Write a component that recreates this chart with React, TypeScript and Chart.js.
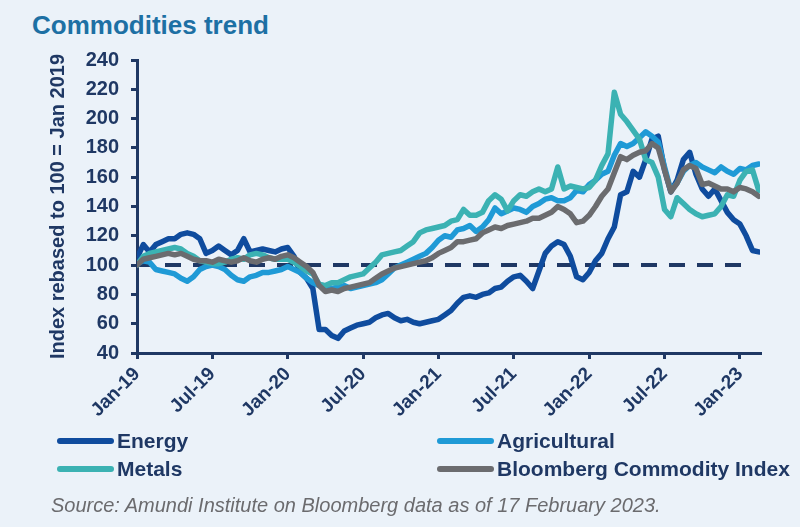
import React, { useEffect, useRef } from "react";
import { Chart, registerables } from "chart.js";

Chart.register(...registerables);

// ---- data (half-month steps from Jan 2019) ----
const STEP_MONTHS = 0.5;
const tickMonths = [0, 6, 12, 18, 24, 30, 36, 42, 48];
const tickLabels = ["Jan-19", "Jul-19", "Jan-20", "Jul-20", "Jan-21", "Jul-21", "Jan-22", "Jul-22", "Jan-23"];
const baselineValue = 100;
const baselineRange = [0, 48.4];

const energy = [
  105, 114, 109, 114, 116, 118, 118, 121, 122, 121,
  118, 108, 110, 113, 110, 107, 110, 118, 109, 110,
  111, 110, 109, 111, 112, 106, 95, 91, 84, 56,
  56, 52, 50, 55, 57, 59, 60, 61, 64, 66,
  67, 64, 62, 63, 61, 60, 61, 62, 63, 66,
  69, 74, 78, 79, 78, 80, 81, 84, 85, 89,
  92, 93, 89, 84, 96, 108, 113, 116, 114, 106,
  92, 90, 95, 103, 108, 118, 126, 148, 150, 164,
  160, 172, 186, 188, 165, 150, 158, 172, 177, 162,
  152, 147, 152, 144, 136, 131, 128, 120, 110, 109,
];

const agricultural = [
  101, 103, 102, 97, 96, 95, 94, 91, 89, 92,
  97, 99, 100, 99, 97, 93, 90, 89, 92, 93,
  95, 95, 96, 97, 99, 97, 95, 91, 88, 86,
  85, 84, 85, 86, 84, 85, 86, 87, 88, 90,
  94, 98, 100, 102, 104, 106, 108, 112, 117, 120,
  119, 124, 125, 127, 123, 126, 131, 139, 135, 137,
  139, 138, 136, 140, 142, 145, 146, 144, 144, 146,
  151, 150, 155, 158, 162, 164, 175, 183, 181, 183,
  187, 191, 188, 184, 167, 151, 156, 164, 168, 170,
  167, 165, 163, 167, 164, 162, 166, 165, 168, 169,
];

const metals = [
  100, 106, 108, 109, 110, 111, 112, 111, 108, 106,
  103, 102, 101, 101, 102, 104, 105, 104, 107, 108,
  107, 105, 104, 104, 104, 102, 99, 96, 94, 87,
  86, 88, 88, 90, 92, 93, 94, 98, 102, 107,
  108, 109, 110, 113, 116, 122, 124, 125, 126, 127,
  130, 131, 138, 134, 134, 136, 144, 148, 145, 137,
  144, 148, 147, 150, 152, 150, 152, 167, 152, 154,
  153, 152, 153, 158, 168, 176, 218, 203, 198, 192,
  186, 172, 170, 160, 138, 133, 146, 142, 138, 135,
  133, 134, 135, 140, 148, 147, 158, 164, 165, 151,
];

const bloomberg = [
  100, 104, 105, 106, 107, 108, 107, 108, 106, 104,
  103, 103, 102, 104, 103, 102, 103, 105, 103, 102,
  104, 105, 104, 106, 107, 105, 102, 99, 95, 86,
  82, 83, 82, 84, 85, 86, 87, 88, 91, 94,
  96, 98, 99, 100, 101, 102, 103, 105, 108, 110,
  112, 116, 116, 117, 118, 122, 124, 126, 125, 127,
  128, 129, 130, 132, 132, 134, 136, 140, 138, 135,
  129, 130, 134, 140, 147, 152, 163, 174, 172, 175,
  177, 178, 183, 180, 165, 150, 156, 165, 168, 166,
  155, 156, 154, 152, 152, 150, 153, 152, 150, 147,
];

const seriesNames = ["Energy", "Agricultural", "Metals", "Bloomberg Commodity Index"];
const seriesColors = ["#0f4c9e", "#1f9ad6", "#3bb2b3", "#6b6c6f"];

const NAVY = "#1f3864";
const FONT = "'Liberation Sans', Arial, sans-serif";
const BG = "#ebf2f9";

const toPoints = (arr: number[]) => arr.map((v, i) => ({ x: i * STEP_MONTHS, y: v }));

function LegendItem({ name, color, left, top }: { name: string; color: string; left: number; top: number }) {
  return (
    <div
      style={{
        position: "absolute",
        left,
        top,
        height: 24,
        display: "flex",
        alignItems: "center",
        fontFamily: FONT,
        fontWeight: 700,
        fontSize: 21,
        lineHeight: "24px",
        color: NAVY,
        whiteSpace: "nowrap",
      }}
    >
      <span
        style={{
          display: "inline-block",
          width: 57,
          height: 6,
          borderRadius: 3,
          background: color,
          marginRight: 3,
        }}
      />
      <span>{name}</span>
    </div>
  );
}

export default function App() {
  const ref = useRef<HTMLCanvasElement>(null);

  useEffect(() => {
    const seriesData = [energy, agricultural, metals, bloomberg];
    const orders = [4, 3, 2, 1];
    const datasets: any[] = seriesNames.map((name, k) => ({
      label: name,
      data: toPoints(seriesData[k]),
      borderColor: seriesColors[k],
      backgroundColor: seriesColors[k],
      borderWidth: 5.5,
      order: orders[k],
    }));
    datasets.push({
      label: "Baseline",
      data: baselineRange.map((x) => ({ x, y: baselineValue })),
      borderColor: NAVY,
      borderWidth: 4,
      borderDash: [16, 12],
      borderCapStyle: "butt",
      order: 5,
    });

    const chart = new Chart(ref.current!, {
      type: "line",
      data: { datasets },
      options: {
        responsive: false,
        animation: false,
        layout: { padding: { left: 0, top: 60, right: 40, bottom: 0 } },
        plugins: { legend: { display: false }, tooltip: { enabled: false } },
        elements: {
          point: { radius: 0 },
          line: { tension: 0, borderJoinStyle: "round", borderCapStyle: "round" },
        },
        scales: {
          x: {
            type: "linear",
            min: 0,
            max: 49.6,
            afterBuildTicks: (s: any) => {
              s.ticks = tickMonths.map((v) => ({ value: v }));
            },
            afterFit: (s: any) => {
              s.height = 174;
            },
            ticks: {
              autoSkip: false,
              maxRotation: 45,
              minRotation: 45,
              padding: 4,
              color: NAVY,
              font: { family: FONT, weight: "bold", size: 19 },
              callback: (_v: any, i: number) => tickLabels[i],
            },
            grid: { drawOnChartArea: false, drawTicks: true, tickLength: 6, color: NAVY, lineWidth: 3 },
            border: { display: true, color: NAVY, width: 3 },
          },
          y: {
            min: 40,
            max: 240,
            afterFit: (s: any) => {
              s.width = 137;
            },
            ticks: {
              stepSize: 20,
              padding: 12,
              color: NAVY,
              font: { family: FONT, weight: "bold", size: 20 },
            },
            title: {
              display: true,
              text: "Index rebased to 100 = Jan 2019",
              color: NAVY,
              font: { family: FONT, weight: "bold", size: 20 },
              padding: { top: 46, bottom: 0 },
            },
            grid: { drawOnChartArea: false, drawTicks: true, tickLength: 6, color: NAVY, lineWidth: 3 },
            border: { display: true, color: NAVY, width: 3 },
          },
        },
      } as any,
    });
    return () => chart.destroy();
  }, []);

  return (
    <div
      style={{
        position: "fixed",
        left: 0,
        top: 0,
        width: 800,
        height: 527,
        background: BG,
        overflow: "hidden",
      }}
    >
      <div
        style={{
          position: "absolute",
          left: 32,
          top: 11,
          fontFamily: FONT,
          fontWeight: 700,
          fontSize: 26,
          lineHeight: "29px",
          color: "#1d70a4",
          whiteSpace: "nowrap",
        }}
      >
        Commodities trend
      </div>
      <canvas ref={ref} width={800} height={527} style={{ position: "absolute", left: 0, top: 0, display: "block" }} />
      <LegendItem name={seriesNames[0]} color={seriesColors[0]} left={57} top={429} />
      <LegendItem name={seriesNames[1]} color={seriesColors[1]} left={437} top={429} />
      <LegendItem name={seriesNames[2]} color={seriesColors[2]} left={57} top={457} />
      <LegendItem name={seriesNames[3]} color={seriesColors[3]} left={437} top={457} />
      <div
        style={{
          position: "absolute",
          left: 51,
          top: 494,
          fontFamily: FONT,
          fontStyle: "italic",
          fontSize: 20,
          lineHeight: "22px",
          color: "#6b6b6e",
          whiteSpace: "nowrap",
        }}
      >
        Source: Amundi Institute on Bloomberg data as of 17 February 2023.
      </div>
    </div>
  );
}
